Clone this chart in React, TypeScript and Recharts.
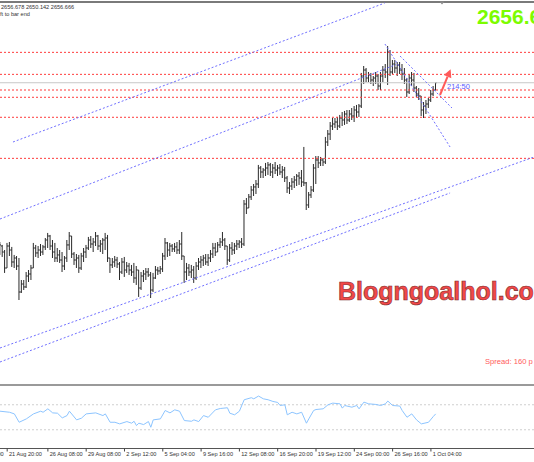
import React from 'react';
import { ComposedChart, Bar, Line, XAxis, YAxis, ReferenceLine, ReferenceDot } from 'recharts';

const opens = [
  2514.5, 2517.9, 2512.8, 2499.2, 2517.9, 2514.5, 2504.3, 2507.7, 2500.9, 2478.8,
  2485.6, 2483.1, 2492.4, 2494.1, 2499.2, 2516.2, 2512.0, 2514.5, 2512.8, 2517.1,
  2523.0, 2526.4, 2517.9, 2512.8, 2507.7, 2510.3, 2506.0, 2500.9, 2507.7, 2518.8,
  2526.4, 2511.1, 2506.0, 2507.7, 2499.2, 2509.4, 2512.8, 2516.2, 2523.0, 2519.6,
  2521.3, 2526.4, 2517.9, 2519.6, 2523.0, 2524.7, 2507.7, 2501.8, 2504.3, 2506.0,
  2502.6, 2495.8, 2504.3, 2497.5, 2500.9, 2497.5, 2495.8, 2490.7, 2497.5, 2482.2,
  2492.4, 2494.1, 2495.8, 2493.3, 2480.5, 2490.7, 2497.5, 2496.7, 2498.4, 2509.4,
  2520.5, 2514.5, 2517.9, 2515.4, 2517.1, 2514.5, 2519.6, 2509.4, 2495.8, 2499.2,
  2495.8, 2497.5, 2490.7, 2500.9, 2504.3, 2506.0, 2507.7, 2504.3, 2507.7, 2511.1,
  2516.2, 2512.8, 2518.8, 2521.3, 2523.0, 2517.9, 2506.0, 2516.2, 2514.5, 2517.9,
  2519.6, 2521.3, 2519.6, 2553.6, 2550.2, 2559.6, 2565.5, 2568.1, 2570.6, 2584.2,
  2580.8, 2582.5, 2584.2, 2586.8, 2580.8, 2584.2, 2582.5, 2584.2, 2580.8, 2582.5,
  2575.7, 2567.2, 2568.9, 2572.3, 2574.0, 2577.4, 2575.7, 2572.3, 2571.5, 2552.8,
  2561.3, 2565.5, 2584.2, 2591.0, 2588.5, 2591.0, 2589.3, 2606.3, 2613.1, 2619.9,
  2621.6, 2623.3, 2619.9, 2626.7, 2625.0, 2630.1, 2625.0, 2630.1, 2628.4, 2633.5,
  2631.8, 2636.9, 2662.4, 2667.5, 2660.7, 2663.3, 2659.0, 2660.7, 2662.4, 2653.9,
  2662.4, 2667.5, 2665.8, 2682.8, 2665.8, 2672.6, 2669.2, 2671.8, 2667.5, 2664.1,
  2659.0, 2648.8, 2660.7, 2659.0, 2652.2, 2647.1, 2645.4, 2633.5, 2636.9, 2638.6,
  2642.0, 2647.1, 2650.5,
];
const highs = [
  2521.3, 2518.8, 2514.5, 2520.5, 2521.3, 2517.1, 2510.3, 2509.4, 2507.7, 2489.0,
  2489.0, 2495.8, 2497.5, 2501.8, 2520.5, 2518.8, 2517.9, 2519.6, 2518.8, 2524.7,
  2529.0, 2527.3, 2523.0, 2520.5, 2516.2, 2514.5, 2512.8, 2509.4, 2523.0, 2529.8,
  2526.4, 2512.8, 2511.1, 2510.3, 2512.0, 2516.2, 2518.8, 2525.6, 2526.4, 2524.7,
  2529.8, 2527.3, 2523.0, 2524.7, 2529.0, 2527.3, 2507.7, 2507.7, 2509.4, 2508.6,
  2504.3, 2507.7, 2508.6, 2504.3, 2503.5, 2501.8, 2503.5, 2500.9, 2497.5, 2495.8,
  2497.5, 2499.2, 2499.2, 2495.8, 2495.0, 2500.9, 2500.1, 2500.9, 2512.0, 2524.7,
  2521.3, 2520.5, 2519.6, 2520.5, 2521.3, 2523.0, 2529.8, 2509.4, 2503.5, 2502.6,
  2501.8, 2500.9, 2504.3, 2507.7, 2509.4, 2510.3, 2511.1, 2511.1, 2514.5, 2520.5,
  2520.5, 2521.3, 2524.7, 2529.8, 2524.7, 2517.9, 2519.6, 2521.3, 2520.5, 2523.0,
  2523.0, 2524.7, 2557.0, 2558.7, 2562.1, 2568.9, 2570.6, 2574.0, 2586.8, 2585.9,
  2584.2, 2588.5, 2589.3, 2588.5, 2587.6, 2589.3, 2586.8, 2587.6, 2585.9, 2585.1,
  2577.4, 2572.3, 2575.7, 2577.4, 2579.1, 2580.8, 2582.5, 2602.1, 2572.3, 2563.8,
  2568.9, 2587.6, 2594.4, 2594.4, 2593.6, 2592.7, 2610.6, 2616.5, 2623.3, 2626.7,
  2626.7, 2627.6, 2629.3, 2631.8, 2632.7, 2633.5, 2633.5, 2635.2, 2636.9, 2637.8,
  2638.6, 2665.0, 2670.9, 2669.2, 2665.8, 2665.0, 2662.4, 2665.8, 2664.1, 2665.8,
  2670.9, 2672.6, 2687.9, 2684.5, 2676.0, 2676.0, 2674.3, 2674.3, 2672.6, 2669.2,
  2660.7, 2664.1, 2665.8, 2665.0, 2653.9, 2652.2, 2645.4, 2640.3, 2642.0, 2643.7,
  2650.5, 2653.9, 2656.678,
];
const lows = [
  2510.3, 2508.6, 2495.0, 2499.2, 2509.4, 2500.1, 2499.2, 2497.5, 2472.0, 2478.0,
  2480.5, 2482.2, 2487.3, 2489.0, 2499.2, 2508.6, 2507.7, 2509.4, 2510.3, 2514.5,
  2516.2, 2514.5, 2507.7, 2504.3, 2504.3, 2503.5, 2495.8, 2497.5, 2504.3, 2514.5,
  2507.7, 2501.8, 2499.2, 2495.0, 2497.5, 2504.3, 2507.7, 2514.5, 2516.2, 2512.8,
  2517.9, 2514.5, 2512.8, 2511.1, 2514.5, 2504.3, 2495.0, 2499.2, 2500.1, 2499.2,
  2489.0, 2494.1, 2491.6, 2495.0, 2493.3, 2492.4, 2486.5, 2484.8, 2474.6, 2480.5,
  2487.3, 2489.0, 2491.6, 2473.7, 2478.8, 2489.9, 2493.3, 2494.1, 2495.8, 2506.0,
  2508.6, 2509.4, 2512.8, 2512.8, 2511.1, 2511.1, 2506.0, 2486.5, 2489.0, 2492.4,
  2490.7, 2486.5, 2489.0, 2497.5, 2499.2, 2500.9, 2501.8, 2500.9, 2504.3, 2507.7,
  2509.4, 2512.8, 2516.2, 2517.9, 2514.5, 2501.8, 2504.3, 2510.3, 2511.1, 2514.5,
  2516.2, 2516.2, 2517.9, 2545.1, 2550.2, 2557.0, 2560.4, 2562.1, 2567.2, 2575.7,
  2575.7, 2577.4, 2578.3, 2577.4, 2575.7, 2579.1, 2577.4, 2578.3, 2575.7, 2572.3,
  2563.0, 2562.1, 2565.5, 2567.2, 2568.9, 2569.8, 2568.1, 2568.9, 2548.5, 2550.2,
  2558.7, 2563.8, 2570.6, 2584.2, 2585.9, 2585.9, 2587.6, 2602.9, 2608.0, 2616.5,
  2618.2, 2616.5, 2618.2, 2619.9, 2620.8, 2621.6, 2623.3, 2625.0, 2623.3, 2626.7,
  2627.6, 2635.2, 2655.6, 2657.3, 2657.3, 2655.6, 2653.9, 2655.6, 2650.5, 2650.5,
  2657.3, 2660.7, 2654.8, 2662.4, 2664.1, 2665.0, 2662.4, 2664.1, 2659.0, 2655.6,
  2644.6, 2647.1, 2653.9, 2648.8, 2644.6, 2642.0, 2628.4, 2626.7, 2630.1, 2635.2,
  2640.3, 2645.4, 2650.142,
];
const closes = [
  2518.8, 2512.8, 2499.2, 2517.9, 2514.5, 2504.3, 2507.7, 2500.9, 2478.8, 2485.6,
  2483.1, 2492.4, 2494.1, 2499.2, 2516.2, 2512.0, 2514.5, 2512.8, 2517.1, 2523.0,
  2526.4, 2517.9, 2512.8, 2507.7, 2510.3, 2506.0, 2500.9, 2507.7, 2518.8, 2526.4,
  2511.1, 2506.0, 2507.7, 2499.2, 2509.4, 2512.8, 2516.2, 2523.0, 2519.6, 2521.3,
  2526.4, 2517.9, 2519.6, 2523.0, 2524.7, 2507.7, 2501.8, 2504.3, 2506.0, 2502.6,
  2495.8, 2504.3, 2497.5, 2500.9, 2497.5, 2495.8, 2490.7, 2497.5, 2482.2, 2492.4,
  2494.1, 2495.8, 2493.3, 2480.5, 2490.7, 2497.5, 2496.7, 2498.4, 2509.4, 2520.5,
  2514.5, 2517.9, 2515.4, 2517.1, 2514.5, 2519.6, 2509.4, 2495.8, 2499.2, 2495.8,
  2497.5, 2490.7, 2500.9, 2504.3, 2506.0, 2507.7, 2504.3, 2507.7, 2511.1, 2516.2,
  2512.8, 2518.8, 2521.3, 2523.0, 2517.9, 2506.0, 2516.2, 2514.5, 2517.9, 2519.6,
  2521.3, 2519.6, 2553.6, 2550.2, 2559.6, 2565.5, 2568.1, 2570.6, 2584.2, 2580.8,
  2582.5, 2584.2, 2586.8, 2580.8, 2584.2, 2582.5, 2584.2, 2580.8, 2582.5, 2575.7,
  2567.2, 2568.9, 2572.3, 2574.0, 2577.4, 2575.7, 2572.3, 2571.5, 2552.8, 2561.3,
  2565.5, 2584.2, 2591.0, 2588.5, 2591.0, 2589.3, 2606.3, 2613.1, 2619.9, 2621.6,
  2623.3, 2619.9, 2626.7, 2625.0, 2630.1, 2625.0, 2630.1, 2628.4, 2633.5, 2631.8,
  2636.9, 2662.4, 2667.5, 2660.7, 2663.3, 2659.0, 2660.7, 2662.4, 2653.9, 2662.4,
  2667.5, 2665.8, 2682.8, 2665.8, 2672.6, 2669.2, 2671.8, 2667.5, 2664.1, 2659.0,
  2648.8, 2660.7, 2659.0, 2652.2, 2647.1, 2645.4, 2633.5, 2636.9, 2638.6, 2642.0,
  2647.1, 2650.5, 2656.666,
];

// RSI readings (bar index, value)
const rsiIdx = [0, 4, 6, 8, 11, 14, 17, 18, 20, 22, 24, 26, 28, 29, 32, 34, 36, 40, 43, 44, 46, 48, 50, 53, 55, 56, 57, 58, 60, 62, 63, 64, 67, 69, 71, 73, 75, 77, 80, 81, 83, 85, 87, 90, 92, 95, 96, 98, 100, 102, 105, 106, 108, 110, 112, 114, 116, 117, 119, 120, 122, 124, 126, 128, 129, 131, 132, 135, 137, 139, 142, 143, 144, 147, 149, 150, 152, 154, 157, 159, 161, 162, 164, 167, 168, 170, 172, 174, 176, 179, 181, 182];
const rsiVal = [59.7, 58, 55.4, 42, 47.4, 55.4, 59.7, 58, 63.5, 57, 56.5, 49, 52.7, 59.7, 45.8, 48.5, 55.4, 57, 52.7, 55.4, 42, 42, 39.4, 43.1, 40.5, 43.6, 36.7, 40.5, 38.3, 43.1, 34, 45.8, 47.4, 60.8, 57, 61.9, 59.7, 44.7, 43.6, 45.8, 43.1, 52.7, 50, 61.9, 64, 65.2, 56.5, 53.9, 59.7, 78, 81.3, 79.5, 83.9, 79.5, 78, 75.3, 73.7, 68.8, 69.9, 53.9, 58, 55.4, 58, 40.5, 47.4, 60.8, 62.4, 63.5, 69.9, 72.6, 71.5, 64.6, 68.8, 66.1, 68.8, 63.5, 74.2, 71.5, 70.5, 68.8, 71.5, 75.9, 68.8, 67.9, 60.8, 50, 55.4, 45.8, 39.4, 42, 51.2, 55.4];

const tickIdx = [-13, 3, 20, 36, 52, 68, 84, 100, 116, 132, 148, 164, 180];
const tickLabels = ['20 Aug 04:00', '21 Aug 20:00', '26 Aug 08:00', '29 Aug 08:00', '2 Sep 12:00', '5 Sep 04:00', '9 Sep 16:00', '12 Sep 08:00', '16 Sep 20:00', '19 Sep 12:00', '24 Sep 00:00', '26 Sep 16:00', '1 Oct 04:00'];

const redLevels = [2682.5, 2663.8, 2650.5, 2644.3, 2627.3, 2592.4];
const lastPrice = 2656.666;

const channelLines = [
  [[5.43, 2606.3], [160.7, 2724.4]],
  [[0, 2540.85], [165.4, 2672.1]],
  [[0, 2431.2], [223.06, 2593.55]],
  [[0, 2419.3], [188.0, 2563.0]],
  [[160.8, 2689.6], [188.0, 2602.05]],
  [[167.1, 2679.4], [188.8, 2635.2]],
];
const arrowTail = [183.8, 2646.25];
const arrowTip = [188.25, 2668.1];

const bars = opens.map((o, i) => ({ i, open: o, high: highs[i], low: lows[i], close: closes[i] }));
const rsiData = rsiIdx.map((i, k) => ({ i, rsi: rsiVal[k] }));

const X_DOMAIN: [number, number] = [0, 223.06];
const FONT = '"Liberation Sans", Arial, sans-serif';

const OhlcShape = (props: any) => {
  const { x, y, width, height, payload } = props;
  if (x == null || y == null || !payload) return null;
  const cx = x + width / 2;
  const top = Math.min(y, y + height);
  const h = Math.abs(height);
  const range = payload.high - payload.low || 1;
  const yo = top + ((payload.high - payload.open) / range) * h;
  const yc = top + ((payload.high - payload.close) / range) * h;
  const c = '#2a2a2a';
  return (
    <g>
      <line x1={cx} y1={top} x2={cx} y2={top + h} stroke={c} strokeWidth={1} />
      <line x1={cx - 1.2} y1={yo} x2={cx} y2={yo} stroke={c} strokeWidth={1} />
      <line x1={cx} y1={yc} x2={cx + 1.2} y2={yc} stroke={c} strokeWidth={1} />
    </g>
  );
};

const ArrowHead = (props: any) => {
  const { cx, cy } = props;
  if (cx == null || cy == null) return null;
  const pts = `${cx},${cy} ${cx + 0.6},${cy + 8.9} ${cx - 6.8},${cy + 5.8}`;
  return <polygon points={pts} fill="#ff5a5a" />;
};

const AxisTick = (props: any) => {
  const { x, y, payload } = props;
  const k = tickIdx.indexOf(payload.value);
  const label = k >= 0 ? tickLabels[k] : '';
  return (
    <g>
      <line x1={x} y1={y} x2={x} y2={y + 3} stroke="#444" strokeWidth={1} />
      <text x={x + 1.8} y={y + 7.4} fontSize={5.6} fill="#333" fontFamily={FONT}>
        {label}
      </text>
    </g>
  );
};

export default function App() {
  return (
    <div style={{ position: 'absolute', left: 0, top: 0, width: 534, height: 462, background: '#fff', overflow: 'hidden', fontFamily: FONT }}>
      <div style={{ position: 'absolute', left: 0, top: 1, width: 534, height: 1.5, background: '#7a7a7a' }} />
      <div style={{ position: 'absolute', left: 0, top: 0 }}>
        <ComposedChart width={534} height={384} data={bars} margin={{ top: 3, right: 0, bottom: 0, left: 0 }}>
          <XAxis type="number" dataKey="i" domain={X_DOMAIN} hide allowDataOverflow />
          <YAxis type="number" domain={[2400.6, 2724.45]} hide allowDataOverflow />
          <ReferenceLine y={lastPrice} stroke="#c9c9c9" strokeWidth={1} />
          {redLevels.map((v) => (
            <ReferenceLine key={v} y={v} stroke="#ff3b3b" strokeWidth={1} strokeDasharray="2 2" />
          ))}
          {channelLines.map((s, k) => (
            <ReferenceLine
              key={k}
              segment={[{ x: s[0][0], y: s[0][1] }, { x: s[1][0], y: s[1][1] }]}
              stroke="#7070ff"
              strokeWidth={1}
              strokeDasharray="2 2"
              ifOverflow="visible"
            />
          ))}
          <Bar dataKey={(d: any) => [d.low, d.high]} barSize={2} shape={OhlcShape} isAnimationActive={false} />
          <ReferenceLine
            segment={[{ x: arrowTail[0], y: arrowTail[1] }, { x: arrowTip[0] - 1.3, y: arrowTip[1] - 6.2 }]}
            stroke="#ff5a5a"
            strokeWidth={2}
            ifOverflow="visible"
          />
          <ReferenceDot x={arrowTip[0]} y={arrowTip[1]} r={0} shape={ArrowHead} ifOverflow="visible" />
        </ComposedChart>
      </div>
      <div style={{ position: 'absolute', left: 0, top: 383.5, width: 534, height: 2, background: '#9a9a9a' }} />
      <div style={{ position: 'absolute', left: 0, top: 386 }}>
        <ComposedChart width={534} height={76} data={rsiData} margin={{ top: 0, right: 0, bottom: 0, left: 0 }}>
          <XAxis
            type="number"
            dataKey="i"
            domain={X_DOMAIN}
            allowDataOverflow
            ticks={tickIdx}
            interval={0}
            height={13.5}
            tickSize={0}
            tickMargin={0}
            tickLine={false}
            axisLine={{ stroke: '#555', strokeWidth: 1 }}
            tick={<AxisTick />}
          />
          <YAxis type="number" domain={[0, 100]} hide />
          <ReferenceLine y={70} stroke="#cfcfcf" strokeDasharray="2 2" />
          <ReferenceLine y={30} stroke="#cfcfcf" strokeDasharray="2 2" />
          <Line type="linear" dataKey="rsi" stroke="#8cc4ff" strokeWidth={1} dot={false} isAnimationActive={false} />
        </ComposedChart>
      </div>
      <svg width={534} height={462} style={{ position: 'absolute', left: 0, top: 0, pointerEvents: 'none' }}>
        <polygon points="439.5,1.5 444.5,1.5 442,4.5" fill="#8a8a8a" />
        <text x={1} y={8.6} fontSize={5.6} fill="#333" fontFamily={FONT}>2656.678 2650.142 2656.666</text>
        <text x={0} y={15.6} fontSize={5.6} fill="#333" fontFamily={FONT}>ft to bar end</text>
        <text x={477} y={23.5} fontSize={21} fontWeight="bold" fill="#7cfc00" fontFamily={FONT}>2656.67</text>
        <text x={447} y={88.6} fontSize={7.5} fill="#5a5aff" fontFamily={FONT}>214:50</text>
        <text x={485} y={363.5} fontSize={7.6} fill="#ff5a5a" fontFamily={FONT}>Spread: 160 p</text>
        <text x={338} y={300} fontSize={25} fontWeight="bold" fill="#f24848" stroke="#7a2a2a" strokeWidth={0.6} fontFamily={FONT}>Blogngoalhol.com</text>
      </svg>
    </div>
  );
}
